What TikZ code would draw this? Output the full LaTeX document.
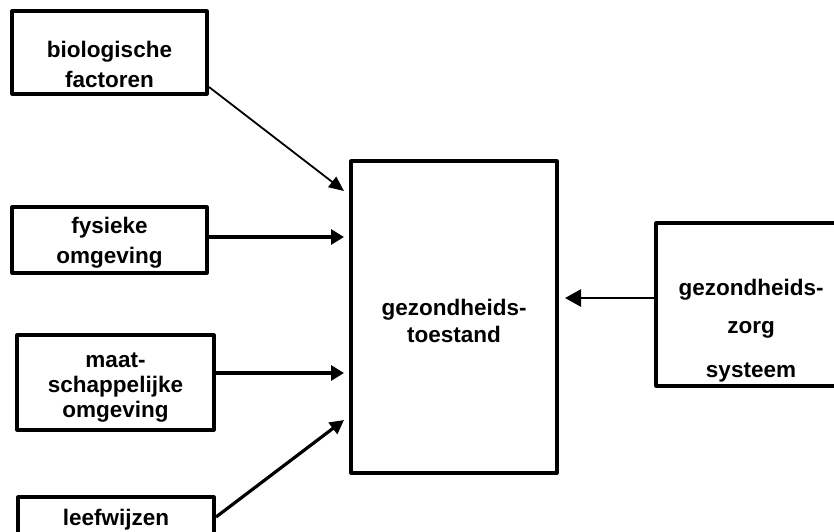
\documentclass[tikz,border=0pt]{standalone}
\usepackage{fontspec}
\setmainfont{Liberation Sans}
\usetikzlibrary{calc,arrows.meta}
\begin{document}
\begin{tikzpicture}[x=1pt,y=-1pt,
  box/.style={draw,line width=3.2pt,line join=round,rectangle,inner sep=0pt,outer sep=0pt},
  lbl/.style={anchor=base,inner sep=0pt,font=\fontsize{22.5}{25}\selectfont\bfseries},
  thin arrow/.style={line width=1.8pt,-{Triangle[length=15pt,width=13pt]}},
  thick arrow/.style={line width=4.2pt,-{Triangle[length=13pt,width=15pt]}},
  mid arrow/.style={line width=3.2pt,-{Triangle[length=14pt,width=14pt]}},
  back arrow/.style={line width=2.8pt,-{Triangle[length=16pt,width=17pt]}}]
\clip (0,0) rectangle (834,531);
\fill[white] (0,0) rectangle (834,531);

% boxes
\node[box,minimum width=195pt,minimum height=83pt] (bio) at (109.5,52.5) {};
\node[box,minimum width=195pt,minimum height=66pt] (fys) at (109.5,240) {};
\node[box,minimum width=197pt,minimum height=95pt] (maat) at (115.5,382.5) {};
\node[box,minimum width=196pt,minimum height=60pt] (leef) at (116,527) {};
\node[box,minimum width=206pt,minimum height=312pt] (ges) at (454,317) {};
\node[box,minimum width=190pt,minimum height=163pt] (zorg) at (751,304.5) {};

% labels
\node[lbl] (bio1) at (109.5,57) {biologische};
\node[lbl] (bio2) at (109.5,87) {factoren};
\node[lbl] (fys1) at (109.5,233) {fysieke};
\node[lbl] (fys2) at (109.5,263) {omgeving};
\node[lbl] (maat1) at (115.5,367) {maat-};
\node[lbl] (maat2) at (115.5,392) {schappelijke};
\node[lbl] (maat3) at (115.5,417) {omgeving};
\node[lbl] (leef1) at (116,525) {leefwijzen};
\node[lbl] (ges1) at (454,315) {gezondheids-};
\node[lbl] (ges2) at (454,342) {toestand};
\node[lbl] (zorg1) at (751,295) {gezondheids-};
\node[lbl] (zorg2) at (751,333) {zorg};
\node[lbl] (zorg3) at (751,377) {systeem};

% influences
\draw[thin arrow] ($(bio.south east)+(2,-7)$) -- ($(ges.north west)+(-7,30)$);
\draw[thick arrow] ($(fys.east)+(0,-3)$) -- ($(ges.north west)+(-7,76)$);
\draw[thick arrow] ($(maat.east)+(0,-9.5)$) -- ($(ges.north west)+(-7,212)$);
\draw[mid arrow] ($(leef.north east)+(2,20)$) -- ($(ges.north west)+(-7,259)$);
\draw[back arrow] ($(zorg.west)+(0,-6.5)$) -- ($(ges.east)+(8,-19)$);
\end{tikzpicture}
\end{document}
